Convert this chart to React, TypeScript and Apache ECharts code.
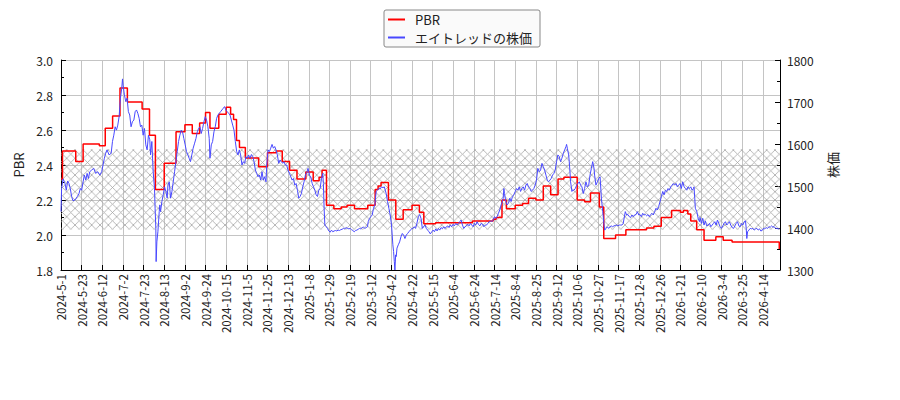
import React, { useEffect, useRef } from 'react';
import * as echarts from 'echarts';

// x axis runs over trading days; one label every 14 trading days
const tickLabels = [
  '2024-5-1', '2024-5-23', '2024-6-12', '2024-7-2', '2024-7-23', '2024-8-13', '2024-9-2',
  '2024-9-24', '2024-10-15', '2024-11-5', '2024-11-25', '2024-12-13', '2025-1-8', '2025-1-29',
  '2025-2-19', '2025-3-12', '2025-4-2', '2025-4-22', '2025-5-15', '2025-6-4', '2025-6-24',
  '2025-7-14', '2025-8-4', '2025-8-25', '2025-9-12', '2025-10-6', '2025-10-27', '2025-11-17',
  '2025-12-8', '2025-12-26', '2026-1-21', '2026-2-10', '2026-3-4', '2026-3-25', '2026-4-14',
];
const TICK_STEP = 14;
const LAST_DAY = 487.5;

// PBR: [trading day, value] at each change (drawn as a step line)
const pbr: [number, number][] = [
  [0, 2.32], [1, 2.48], [10, 2.42], [15, 2.52], [26, 2.51], [30, 2.61], [35, 2.68], [40, 2.84],
  [45, 2.76], [55, 2.72], [60, 2.57], [64, 2.26], [70, 2.41], [78, 2.59], [84, 2.63], [89, 2.58],
  [94, 2.64], [98, 2.7], [101, 2.61], [107, 2.69], [112, 2.73], [115, 2.69], [117, 2.66],
  [119, 2.54], [121, 2.5], [125, 2.44], [134, 2.39], [140, 2.47], [146, 2.48], [150, 2.42],
  [155, 2.37], [160, 2.32], [166, 2.36], [171, 2.31], [175, 2.33], [177, 2.37], [180, 2.17],
  [185, 2.15], [190, 2.16], [194, 2.17], [199, 2.15], [208, 2.17], [213, 2.26], [215, 2.28],
  [217, 2.3], [222, 2.2], [227, 2.09], [232, 2.145], [238, 2.17], [243, 2.13], [246, 2.065],
  [254, 2.07], [279, 2.08], [293, 2.09], [295, 2.1], [299, 2.2], [302, 2.15], [308, 2.17],
  [313, 2.18], [317, 2.21], [322, 2.2], [327, 2.28], [332, 2.23], [337, 2.32], [341, 2.33],
  [350, 2.2], [355, 2.19], [359, 2.24], [365, 2.16], [368, 1.98], [376, 2.0], [383, 2.03],
  [397, 2.04], [402, 2.05], [407, 2.1], [414, 2.14], [420, 2.13], [422, 2.14], [425, 2.12],
  [427, 2.08], [431, 2.03], [436, 1.97], [444, 1.99], [449, 1.97], [455, 1.96], [487, 1.92],
];

// share price: [trading day, yen]
const stock: [number, number][] = [
  [0, 1439], [0.4, 1494], [1.4, 1517], [2.7, 1506], [3.6, 1490], [4.5, 1512], [5.4, 1506],
  [6.3, 1494], [7.2, 1475], [8.1, 1465], [9.5, 1467], [11.1, 1475], [12.2, 1482], [13.1, 1494],
  [14, 1490], [15, 1510], [15.8, 1526], [16.8, 1514], [17.7, 1530], [18.6, 1518], [19.5, 1534],
  [20.8, 1538], [22.2, 1542], [23.5, 1530], [24.9, 1534], [26.3, 1526], [27.6, 1534], [28.5, 1550],
  [29.4, 1566], [30.3, 1578], [31.2, 1586], [32.6, 1574], [34, 1578], [34.9, 1606], [35.8, 1621],
  [36.7, 1641], [37.6, 1633], [38.5, 1645], [39.4, 1665], [40.3, 1709], [41.2, 1733], [41.7, 1755],
  [42.1, 1740], [43, 1717], [43.9, 1701], [44.8, 1709], [45.7, 1677], [46.6, 1669], [47.5, 1641],
  [48.4, 1653], [49.4, 1657], [50.3, 1677], [51.2, 1681], [52.1, 1673], [53, 1661], [53.9, 1641],
  [54.8, 1645], [55.7, 1621], [56.6, 1637], [57.5, 1598], [58.4, 1586], [59.3, 1621], [60.2, 1610],
  [60.7, 1574], [61.6, 1606], [62.5, 1534], [63.4, 1494], [63.8, 1447], [64.3, 1399], [64.5, 1320],
  [65, 1367], [65.7, 1391], [66.6, 1439], [67, 1455], [67.5, 1439], [68.4, 1463], [69.3, 1479],
  [70.2, 1498], [71.1, 1487], [72, 1471], [72.5, 1502], [73.4, 1510], [74.3, 1471], [75.2, 1487],
  [76.1, 1510], [77, 1534], [77.9, 1558], [78.8, 1582], [79.7, 1606], [80.6, 1621], [81.5, 1633],
  [82.4, 1629], [83.3, 1613], [84.2, 1598], [85.1, 1582], [86, 1574], [86.9, 1566], [87.8, 1558],
  [88.7, 1574], [89.6, 1590], [90.6, 1602], [91.5, 1613], [92.4, 1629], [93.3, 1637], [94.2, 1641],
  [95.1, 1625], [96, 1637], [96.9, 1653], [97.8, 1665], [98.7, 1657], [99.6, 1641], [100.5, 1613],
  [101, 1566], [101.9, 1598], [102.8, 1606], [103.7, 1629], [104.6, 1641], [105.5, 1661],
  [106.4, 1669], [107.3, 1673], [108.2, 1677], [109.1, 1681], [110, 1685], [110.9, 1689],
  [111.8, 1681], [112.7, 1677], [113.7, 1673], [114.6, 1669], [115.5, 1657], [116.4, 1645],
  [117.3, 1633], [118.2, 1606], [119.1, 1582], [120, 1574], [120.9, 1586], [121.8, 1574],
  [122.7, 1550], [123.6, 1558], [124.5, 1554], [125.4, 1570], [126.3, 1566], [127.2, 1574],
  [128.1, 1566], [129.1, 1575], [130, 1570], [130.9, 1558], [131.8, 1538], [132.7, 1530],
  [133.6, 1522], [134.5, 1526], [135.4, 1514], [136.3, 1534], [137.2, 1514], [138.1, 1522],
  [139, 1510], [139.5, 1550], [140.4, 1586], [141.3, 1582], [142.2, 1590], [143.1, 1599],
  [144, 1590], [144.9, 1594], [145.8, 1586], [146.7, 1574], [147.6, 1554], [148.5, 1562],
  [149.4, 1558], [150.3, 1554], [151.2, 1558], [152.1, 1550], [153, 1550], [153.9, 1538],
  [154.9, 1530], [155.8, 1522], [156.7, 1514], [157.6, 1518], [158.5, 1502], [159.4, 1506],
  [160.3, 1490], [161.2, 1471], [162.1, 1475], [163, 1482], [163.9, 1498], [164.8, 1510],
  [165.7, 1526], [166.6, 1532], [167.5, 1542], [168.4, 1526], [169.3, 1522], [170.3, 1506],
  [171.2, 1498], [172.1, 1490], [173, 1479], [173.9, 1475], [174.8, 1490], [175.7, 1494],
  [176.6, 1518], [177.5, 1530], [177.9, 1506], [178.4, 1447], [178.9, 1407], [179.8, 1403],
  [180.7, 1399], [181.6, 1393], [182.5, 1390], [183.4, 1395], [184.3, 1391], [185.2, 1393],
  [186.1, 1394], [187, 1393], [187.9, 1395], [188.8, 1394], [189.7, 1396], [190.6, 1397],
  [191.5, 1399], [192.4, 1398], [193.3, 1401], [194.3, 1399], [195.2, 1398], [196.1, 1399],
  [197, 1396], [197.9, 1394], [198.8, 1391], [199.7, 1394], [200.6, 1395], [201.5, 1397],
  [202.4, 1399], [203.3, 1398], [204.2, 1401], [205.1, 1402], [206, 1399], [206.9, 1401],
  [207.8, 1403], [208.3, 1415], [209.2, 1423], [210.1, 1427], [211, 1431], [211.9, 1447],
  [212.8, 1455], [213.7, 1487], [214.6, 1490], [215.5, 1494], [216.4, 1493], [217.3, 1498],
  [218.3, 1496], [219.2, 1498], [220.5, 1482], [221.4, 1463], [222.3, 1447], [223.2, 1431],
  [224.1, 1407], [225, 1360], [225.5, 1344], [226, 1320], [226.4, 1300], [226.9, 1336],
  [227.3, 1332], [227.8, 1352], [228.7, 1360], [229.6, 1367], [230.5, 1379], [231.4, 1387],
  [232.3, 1383], [233.2, 1375], [234.1, 1383], [235, 1387], [235.9, 1391], [236.8, 1395],
  [237.7, 1398], [238.6, 1399], [239.5, 1403], [240.4, 1399], [241.3, 1411], [242.3, 1427],
  [243.2, 1432], [244.1, 1423], [245, 1399], [245.9, 1403], [246.8, 1407], [247.7, 1399],
  [248.6, 1395], [249.5, 1391], [250.4, 1386], [251.4, 1391], [252.3, 1395], [253.2, 1391],
  [254.1, 1398], [255, 1393], [255.9, 1399], [256.8, 1395], [257.7, 1401], [258.6, 1398],
  [259.5, 1403], [260.4, 1399], [261.3, 1403], [262.2, 1405], [263.1, 1401], [264, 1407],
  [264.9, 1403], [265.8, 1409], [266.7, 1405], [267.7, 1411], [268.6, 1407], [269.5, 1411],
  [270.4, 1415], [271.3, 1419], [272.2, 1407], [273.1, 1399], [274, 1403], [274.9, 1405],
  [275.8, 1409], [276.7, 1405], [277.6, 1411], [278.5, 1407], [279.4, 1403], [280.3, 1411],
  [281.2, 1407], [282.1, 1415], [283, 1409], [284, 1405], [284.9, 1411], [285.8, 1409],
  [286.7, 1403], [287.6, 1407], [288.5, 1407], [289.4, 1411], [290.3, 1415], [291.2, 1417],
  [292.1, 1415], [293, 1419], [293.9, 1427], [294.8, 1423], [295.7, 1427], [296.6, 1435],
  [297.5, 1443], [298.4, 1455], [299.3, 1463], [299.8, 1471], [300.3, 1494], [300.7, 1482],
  [301.6, 1463], [302.5, 1455], [303.4, 1459], [304.3, 1471], [305.2, 1463], [306.1, 1475],
  [307, 1479], [308, 1487], [308.9, 1494], [309.8, 1490], [310.7, 1498], [311.6, 1487],
  [312.5, 1494], [313.4, 1498], [314.3, 1490], [315.2, 1502], [316.1, 1506], [317, 1498],
  [317.9, 1494], [318.8, 1487], [319.7, 1490], [320.6, 1494], [321.5, 1502], [322.4, 1514],
  [323.3, 1542], [324.3, 1534], [325.2, 1538], [326.1, 1554], [327, 1546], [327.9, 1538],
  [328.8, 1526], [329.7, 1514], [330.6, 1510], [331.5, 1514], [332.4, 1518], [333.3, 1526],
  [334.2, 1530], [335.1, 1538], [336, 1558], [336.9, 1574], [337.8, 1570], [338.7, 1558],
  [339.6, 1566], [340.6, 1578], [341.5, 1586], [342.4, 1594], [342.8, 1599], [343.3, 1590],
  [344.2, 1574], [344.6, 1558], [345.1, 1534], [345.5, 1510], [346, 1498], [346.4, 1487],
  [346.9, 1490], [347.8, 1490], [348.7, 1494], [349.6, 1502], [350.5, 1506], [351.4, 1510],
  [352.3, 1502], [353.2, 1498], [354.1, 1482], [355, 1494], [355.9, 1510], [356.9, 1498],
  [357.8, 1502], [358.7, 1526], [359.6, 1542], [360.5, 1558], [361.4, 1542], [361.8, 1526],
  [362.7, 1502], [363.7, 1510], [364.6, 1518], [365.5, 1522], [366.4, 1471], [367.3, 1439],
  [368.2, 1407], [368.6, 1395], [369.5, 1399], [370.4, 1403], [371.3, 1399], [372.2, 1403],
  [373.1, 1405], [374, 1403], [374.9, 1405], [375.8, 1406], [376.7, 1407], [377.6, 1405],
  [378.5, 1407], [379.4, 1407], [380.3, 1407], [381.2, 1411], [382.2, 1431], [382.6, 1439],
  [383.5, 1431], [384.4, 1432], [385.3, 1427], [386.2, 1425], [387.1, 1431], [388, 1427],
  [388.9, 1431], [389.9, 1432], [390.8, 1439], [391.7, 1431], [392.6, 1432], [393.5, 1427],
  [394.4, 1435], [395.3, 1431], [396.2, 1432], [397.1, 1429], [398, 1432], [398.9, 1427],
  [399.8, 1432], [400.7, 1435], [401.6, 1431], [402.5, 1439], [403.4, 1447], [404.3, 1443],
  [405.2, 1451], [406.2, 1463], [407.1, 1475], [408, 1487], [408.9, 1479], [409.8, 1490],
  [410.7, 1487], [411.6, 1494], [412.5, 1490], [413.4, 1498], [414.3, 1502], [415.2, 1506],
  [416.1, 1502], [417, 1506], [417.9, 1498], [418.8, 1502], [419.7, 1506], [420.6, 1494],
  [421.5, 1510], [422.5, 1498], [423.4, 1494], [424.3, 1490], [425.2, 1498], [426.1, 1494],
  [427, 1498], [427.9, 1490], [428.8, 1494], [429.2, 1498], [429.7, 1471], [430.1, 1447],
  [431.1, 1439], [432, 1423], [432.9, 1415], [433.3, 1425], [434.2, 1411], [435.1, 1423],
  [436, 1407], [436.9, 1417], [437.8, 1405], [438.8, 1407], [439.7, 1411], [440.6, 1403],
  [441.5, 1407], [442.4, 1411], [443.3, 1415], [444.2, 1407], [445.1, 1419], [446, 1411],
  [446.9, 1403], [447.8, 1399], [448.7, 1405], [449.6, 1411], [450.5, 1415], [451.4, 1407],
  [452.3, 1411], [453.2, 1415], [454.1, 1407], [455.1, 1401], [456, 1399], [456.9, 1405],
  [457.8, 1411], [458.7, 1415], [459.6, 1405], [460.5, 1403], [461.4, 1411], [462.3, 1407],
  [463.2, 1415], [464.1, 1417], [464.6, 1399], [465, 1375], [465.5, 1391], [466.4, 1395],
  [467.3, 1399], [468.2, 1398], [469.1, 1399], [470, 1395], [470.9, 1398], [471.8, 1399],
  [472.7, 1395], [473.6, 1398], [474.5, 1393], [475.4, 1394], [476.3, 1399], [477.2, 1398],
  [478.1, 1401], [479.1, 1399], [480, 1403], [480.9, 1402], [481.8, 1405], [482.7, 1402],
  [483.6, 1403], [484.5, 1399], [485.4, 1399], [486.3, 1398], [487, 1398],
];

// hatched band on the PBR axis
const bandLow = 2.03;
const bandHigh = 2.49;

const FONT = '"Noto Sans CJK JP", "Noto Sans", sans-serif';
const HATCH = 25 / 3;
const hatchSvg =
  `<svg xmlns='http://www.w3.org/2000/svg' width='${HATCH}' height='${HATCH}'>` +
  `<path d='M0 0L${HATCH} ${HATCH}M0 ${HATCH}L${HATCH} 0' stroke='#a6a6a6' stroke-width='0.8' fill='none'/></svg>`;
const hatchUrl = 'data:image/svg+xml;charset=utf-8,' + encodeURIComponent(hatchSvg);

const App: React.FC = () => {
  const chartRef = useRef<HTMLDivElement>(null);

  useEffect(() => {
    if (!chartRef.current) return;
    document.body.style.margin = '0';

    const chart = echarts.init(chartRef.current, undefined, { renderer: 'svg' });

    const option: echarts.EChartsOption = {
      animation: false,
      backgroundColor: '#ffffff',
      grid: { left: 61, right: 120, top: 60, bottom: 130, containLabel: false },
      legend: {
        orient: 'vertical',
        left: 384,
        top: 10,
        icon: 'rect',
        backgroundColor: '#fafafa',
        borderColor: '#888888',
        borderWidth: 1,
        borderRadius: 2,
        padding: [3, 8, 3, 4],
        itemWidth: 17,
        itemHeight: 2,
        itemGap: 5,
        textStyle: { fontFamily: FONT, fontSize: 13, color: '#222', padding: [0, 0, 0, 5] },
        data: ['PBR', 'エイトレッドの株価'],
      },
      xAxis: {
        type: 'value',
        min: 0,
        max: LAST_DAY,
        interval: TICK_STEP,
        axisLine: { lineStyle: { color: '#000', width: 1 } },
        axisTick: { inside: true, length: 5, lineStyle: { color: '#000' } },
        axisLabel: {
          rotate: 90,
          margin: 4,
          fontFamily: FONT,
          fontSize: 11.5,
          color: '#222',
          showMaxLabel: false,
          formatter: (v: number) => (v % TICK_STEP === 0 ? tickLabels[v / TICK_STEP] ?? '' : ''),
        },
        splitLine: { show: true, lineStyle: { color: '#c4c4c4', width: 1 } },
      },
      yAxis: [
        {
          type: 'value',
          min: 1.8,
          max: 3.0,
          interval: 0.2,
          name: 'PBR',
          nameLocation: 'middle',
          nameRotate: 90,
          nameGap: 36,
          nameTextStyle: { fontFamily: FONT, fontSize: 13, color: '#222' },
          axisLine: { show: true, lineStyle: { color: '#000', width: 1 } },
          axisTick: { show: true, inside: true, length: 5, lineStyle: { color: '#000' } },
          minorTick: { show: true, splitNumber: 2, length: 3, lineStyle: { color: '#000' } },
          axisLabel: {
            margin: 8,
            fontFamily: FONT,
            fontSize: 12,
            color: '#222',
            formatter: (v: number) => v.toFixed(1),
          },
          splitLine: { show: true, lineStyle: { color: '#c4c4c4', width: 1 } },
        },
        {
          type: 'value',
          position: 'right',
          min: 1300,
          max: 1800,
          interval: 100,
          name: '株価',
          nameLocation: 'middle',
          nameRotate: 90,
          nameGap: 46,
          nameTextStyle: { fontFamily: FONT, fontSize: 13, color: '#222' },
          axisLine: { show: true, lineStyle: { color: '#000', width: 1 } },
          axisTick: { show: true, inside: true, length: 5, lineStyle: { color: '#000' } },
          minorTick: { show: true, splitNumber: 2, length: 3, lineStyle: { color: '#000' } },
          axisLabel: {
            margin: 7,
            fontFamily: FONT,
            fontSize: 12,
            color: '#222',
            formatter: (v: number) => String(v),
          },
          splitLine: { show: false },
        },
      ],
      series: [
        {
          name: 'PBR',
          type: 'line',
          step: 'end',
          yAxisIndex: 0,
          data: pbr,
          symbol: 'none',
          lineStyle: { color: '#ff0000', width: 1.5 },
          itemStyle: { color: '#ff0000' },
          markArea: {
            silent: true,
            itemStyle: {
              color: {
                image: hatchUrl,
                repeat: 'repeat',
                imageWidth: HATCH,
                imageHeight: HATCH,
              } as any,
            },
            data: [[{ yAxis: bandLow }, { yAxis: bandHigh }]],
          },
        },
        {
          name: 'エイトレッドの株価',
          type: 'line',
          yAxisIndex: 1,
          data: stock,
          symbol: 'none',
          lineStyle: { color: '#4848ff', width: 1 },
          itemStyle: { color: '#4848ff' },
        },
      ],
    };

    chart.setOption(option);

    return () => {
      chart.dispose();
    };
  }, []);

  return <div ref={chartRef} style={{ width: '900px', height: '400px' }} />;
};

export default App;
